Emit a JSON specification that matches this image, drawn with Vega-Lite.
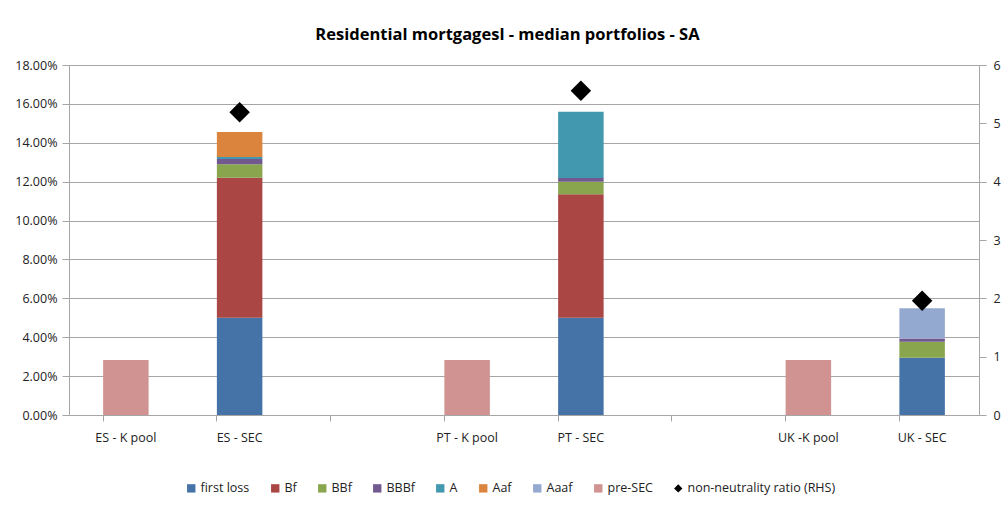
{
  "$schema": "https://vega.github.io/schema/vega-lite/v6.json",
  "width": 910,
  "height": 350,
  "padding": {"left": 14, "top": 26, "right": 5, "bottom": 5},
  "background": "white",
  "title": {"text": "Residential mortgagesl - median portfolios - SA", "fontSize": 16.5, "font": "Open Sans", "fontWeight": "bold", "color": "#000000", "offset": 16, "anchor": "middle", "frame": "bounds"},
  "config": {"font": "Open Sans", "view": {"stroke": null}},
  "datasets": {
    "bars": [
      {"cat": "ES - K pool", "series": "pre-SEC", "k": 8, "value": 0.0283},
      {"cat": "ES - SEC", "series": "first loss", "k": 1, "value": 0.05},
      {"cat": "ES - SEC", "series": "Bf", "k": 2, "value": 0.072},
      {"cat": "ES - SEC", "series": "BBf", "k": 3, "value": 0.007},
      {"cat": "ES - SEC", "series": "BBBf", "k": 4, "value": 0.0027},
      {"cat": "ES - SEC", "series": "A", "k": 5, "value": 0.001},
      {"cat": "ES - SEC", "series": "Aaf", "k": 6, "value": 0.0129},
      {"cat": "PT - K pool", "series": "pre-SEC", "k": 8, "value": 0.0283},
      {"cat": "PT - SEC", "series": "first loss", "k": 1, "value": 0.05},
      {"cat": "PT - SEC", "series": "Bf", "k": 2, "value": 0.0635},
      {"cat": "PT - SEC", "series": "BBf", "k": 3, "value": 0.0065},
      {"cat": "PT - SEC", "series": "BBBf", "k": 4, "value": 0.0019},
      {"cat": "PT - SEC", "series": "A", "k": 5, "value": 0.0341},
      {"cat": "UK -K pool", "series": "pre-SEC", "k": 8, "value": 0.0283},
      {"cat": "UK - SEC", "series": "first loss", "k": 1, "value": 0.0295},
      {"cat": "UK - SEC", "series": "BBf", "k": 3, "value": 0.0082},
      {"cat": "UK - SEC", "series": "BBBf", "k": 4, "value": 0.0017},
      {"cat": "UK - SEC", "series": "Aaaf", "k": 7, "value": 0.0155}
    ],
    "ratio": [
      {"cat": "ES - SEC", "series": "non-neutrality ratio (RHS)", "ratio": 5.19},
      {"cat": "PT - SEC", "series": "non-neutrality ratio (RHS)", "ratio": 5.56},
      {"cat": "UK - SEC", "series": "non-neutrality ratio (RHS)", "ratio": 1.96}
    ]
  },
  "encoding": {
    "x": {
      "field": "cat",
      "type": "nominal",
      "sort": null,
      "scale": {"domain": ["ES - K pool", "ES - SEC", " ", "PT - K pool", "PT - SEC", "  ", "UK -K pool", "UK - SEC"], "paddingInner": 0.6, "paddingOuter": 0.3},
      "axis": {"title": null, "labelAngle": 0, "labelFontSize": 12.5, "labelColor": "#222222", "labelPadding": 10, "domainColor": "#A6A6A6", "tickColor": "#A6A6A6", "tickSize": 6, "bandPosition": 0}
    }
  },
  "layer": [
    {
      "data": {"name": "bars"},
      "mark": {"type": "bar"},
      "encoding": {
        "y": {
          "field": "value",
          "type": "quantitative",
          "stack": "zero",
          "scale": {"domain": [0, 0.18], "nice": false},
          "axis": {"title": null, "format": ".2%", "values": [0, 0.02, 0.04, 0.06, 0.08, 0.1, 0.12, 0.14, 0.16, 0.18], "labelFontSize": 12.5, "labelColor": "#222222", "domainColor": "#A6A6A6", "tickColor": "#A6A6A6", "gridColor": "#A6A6A6", "grid": true, "tickSize": 7, "labelPadding": 5}
        },
        "order": {"field": "k", "type": "quantitative"},
        "color": {
          "field": "series",
          "type": "nominal",
          "scale": {
            "domain": ["first loss", "Bf", "BBf", "BBBf", "A", "Aaf", "Aaaf", "pre-SEC", "non-neutrality ratio (RHS)"],
            "range": ["#4572A7", "#AA4643", "#89A54E", "#71588F", "#4198AF", "#DB843D", "#93A9CF", "#D19392", "#000000"]
          },
          "legend": {"title": null, "orient": "none", "legendX": 116, "legendY": 417, "direction": "horizontal", "columns": 9, "labelFontSize": 12.5, "labelColor": "#222222", "symbolSize": 70, "columnPadding": 19, "labelOffset": 3}
        }
      }
    },
    {
      "data": {"name": "ratio"},
      "mark": {"type": "point", "filled": true, "size": 420, "opacity": 1},
      "encoding": {
        "y": {
          "field": "ratio",
          "type": "quantitative",
          "scale": {"domain": [0, 6], "nice": false},
          "axis": {"title": null, "orient": "right", "values": [0, 1, 2, 3, 4, 5, 6], "format": "d", "grid": false, "labelFontSize": 12.5, "labelColor": "#222222", "domainColor": "#A6A6A6", "tickColor": "#A6A6A6", "tickSize": 7, "labelPadding": 7}
        },
        "color": {"field": "series", "type": "nominal"},
        "shape": {
          "field": "series",
          "type": "nominal",
          "scale": {
            "domain": ["first loss", "Bf", "BBf", "BBBf", "A", "Aaf", "Aaaf", "pre-SEC", "non-neutrality ratio (RHS)"],
            "range": ["square", "square", "square", "square", "square", "square", "square", "square", "diamond"]
          },
          "legend": {"title": null, "orient": "none", "legendX": 116, "legendY": 417, "direction": "horizontal", "columns": 9, "labelFontSize": 12.5, "labelColor": "#222222", "symbolSize": 70, "columnPadding": 19, "labelOffset": 3}
        }
      }
    }
  ],
  "resolve": {"scale": {"y": "independent"}}
}
